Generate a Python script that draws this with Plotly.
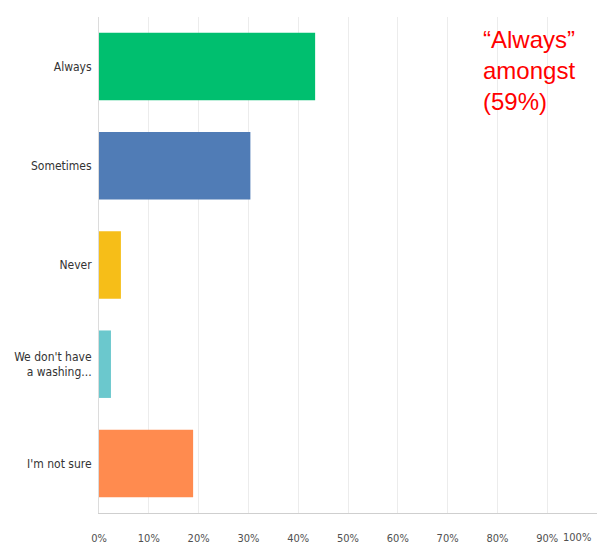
import plotly.graph_objects as go

categories = ["Always", "Sometimes", "Never", "We don't have<br>a washing...", "I'm not sure"]
values = [43.4, 30.4, 4.4, 2.4, 18.9]
colors = ["#00BF6F", "#507CB6", "#F6BE18", "#6BC8CD", "#FF8B4F"]
tick_vals = [0, 10, 20, 30, 40, 50, 60, 70, 80, 90]
tick_text = ["0%", "10%", "20%", "30%", "40%", "50%", "60%", "70%", "80%", "90%"]
last_tick_val = 100
last_tick_text = "100%"
note_text = "“Always”<br>amongst<br>(59%)"

label_font = dict(family="DejaVu Sans Condensed, Liberation Sans Narrow, Arial", size=12, color="#333333")

fig = go.Figure(go.Bar(
    y=categories, x=values, orientation="h",
    marker=dict(color=colors, line=dict(width=0)),
    width=0.68,
))

fig.update_layout(
    width=598, height=552,
    margin=dict(l=99, r=1, t=17, b=39),
    paper_bgcolor="white", plot_bgcolor="white",
    showlegend=False,
    font=label_font,
    xaxis=dict(range=[0, 100], tickvals=tick_vals + [last_tick_val], ticktext=tick_text + [""],
               showgrid=True, gridcolor="#ececec", gridwidth=1,
               zeroline=False, showline=True, linecolor="#cfcfcf", linewidth=1,
               ticklabelstandoff=15, tickfont=dict(size=11, color="#505050")),
    yaxis=dict(autorange="reversed", showgrid=False, zeroline=False,
               showline=True, linecolor="#dcdcdc", linewidth=1,
               ticklabelstandoff=4, tickfont=label_font),
    annotations=[
        dict(x=76.8, xref="x", y=0.985, yref="paper", xanchor="left", yanchor="top",
             text=note_text, showarrow=False, align="left",
             font=dict(family="Liberation Sans, Arial", size=24, color="#FF0000")),
        dict(x=last_tick_val, xref="x", y=0, yref="paper", xanchor="right", yanchor="top",
             yshift=-16, xshift=-4, text=last_tick_text, showarrow=False,
             font=dict(size=11, color="#505050")),
    ],
)

fig.write_html(
    "out.html",
    config={"displayModeBar": False},
    post_script="document.body.style.margin='0';document.body.style.overflow='hidden';",
)
